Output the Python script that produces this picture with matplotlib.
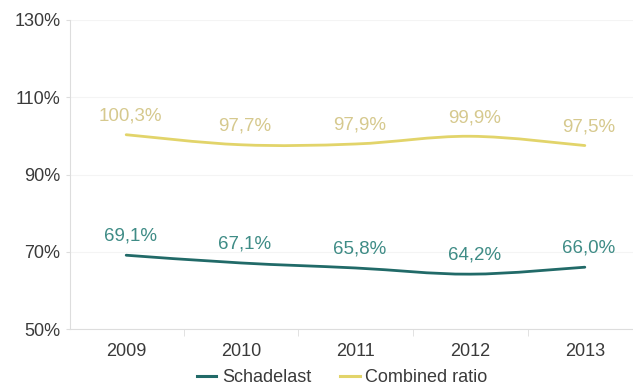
import numpy as np
import matplotlib
matplotlib.use("Agg")
import matplotlib.pyplot as plt
from matplotlib.path import Path
from matplotlib.patches import PathPatch
from matplotlib.lines import Line2D

plt.rcParams['font.family'] = ['Liberation Sans', 'DejaVu Sans']

years = ["2009", "2010", "2011", "2012", "2013"]
schadelast = [69.1, 67.1, 65.8, 64.2, 66.0]
combined_ratio = [100.3, 97.7, 97.9, 99.9, 97.5]
y_ticks = [50, 70, 90, 110, 130]

col_schade = "#216a68"
col_schade_lbl = "#3f8c86"
col_comb = "#e2d46a"
col_comb_lbl = "#d6c98e"
col_text = "#3a3a3a"


def smooth_path(xs, ys, tension=0.35):
    """Cubic Bezier path through the points (Catmull-Rom style handles)."""
    xs = np.asarray(xs, float)
    ys = np.asarray(ys, float)
    n = len(xs)
    verts = [(xs[0], ys[0])]
    codes = [Path.MOVETO]
    for i in range(n - 1):
        a = i - 1 if i > 0 else i
        b = i + 2 if i + 2 < n else i + 1
        t1 = ((xs[i + 1] - xs[a]) * tension * 0.5, (ys[i + 1] - ys[a]) * tension * 0.5)
        t2 = ((xs[b] - xs[i]) * tension * 0.5, (ys[b] - ys[i]) * tension * 0.5)
        if i == 0:
            t1 = ((xs[1] - xs[0]) * tension * 0.5, (ys[1] - ys[0]) * tension * 0.5)
        if i + 2 >= n:
            t2 = ((xs[i + 1] - xs[i]) * tension * 0.5, (ys[i + 1] - ys[i]) * tension * 0.5)
        verts += [(xs[i] + t1[0], ys[i] + t1[1]),
                  (xs[i + 1] - t2[0], ys[i + 1] - t2[1]),
                  (xs[i + 1], ys[i + 1])]
        codes += [Path.CURVE4] * 3
    return Path(verts, codes)


fig = plt.figure(figsize=(6.33, 3.89), dpi=100)
ax = fig.add_axes([70 / 633, 1 - 329 / 389, 1 - 70 / 633, (329 - 20) / 389])

x = np.arange(len(years))
for vals, col in [(schadelast, col_schade), (combined_ratio, col_comb)]:
    ax.add_patch(PathPatch(smooth_path(x, vals), facecolor="none",
                           edgecolor=col, lw=2.0, capstyle="round"))

for vals, col in [(schadelast, col_schade_lbl), (combined_ratio, col_comb_lbl)]:
    for xi, v in zip(x, vals):
        ax.annotate(f"{v:.1f}%".replace(".", ","), (xi, v), xytext=(3, 13.5),
                    textcoords="offset points", ha="center", va="center",
                    fontsize=13.5, color=col)

ax.set_xlim(-0.49, 4.42)
ax.set_ylim(50, 130)
ax.set_yticks(y_ticks)
ax.set_yticklabels([f"{t}%" for t in y_ticks], fontsize=13, color=col_text)
ax.set_xticks(x)
ax.set_xticklabels(years, fontsize=13, color=col_text)
ax.set_xticks(np.arange(0.5, len(years) - 0.5), minor=True)
ax.tick_params(axis="x", which="major", length=0, pad=10)
ax.tick_params(axis="x", which="minor", length=5, color="#dddddd")
ax.tick_params(axis="y", length=3, color="#dddddd", pad=4)
ax.grid(axis="y", color="#f4f4f4", lw=0.8)
ax.set_axisbelow(True)
for s in ["top", "right"]:
    ax.spines[s].set_visible(False)
for s in ["left", "bottom"]:
    ax.spines[s].set_color("#dddddd")
    ax.spines[s].set_linewidth(0.8)

handles = [Line2D([], [], color=col_schade, lw=2.2),
           Line2D([], [], color=col_comb, lw=2.2)]
fig.legend(handles, ["Schadelast", "Combined ratio"], loc="center",
           bbox_to_anchor=(342 / 633, 1 - 378 / 389), ncol=2, frameon=False,
           fontsize=13, handlelength=1.1, handletextpad=0.3, columnspacing=1.6,
           labelcolor=col_text, borderpad=0)

fig.savefig("out.png", dpi=100)
